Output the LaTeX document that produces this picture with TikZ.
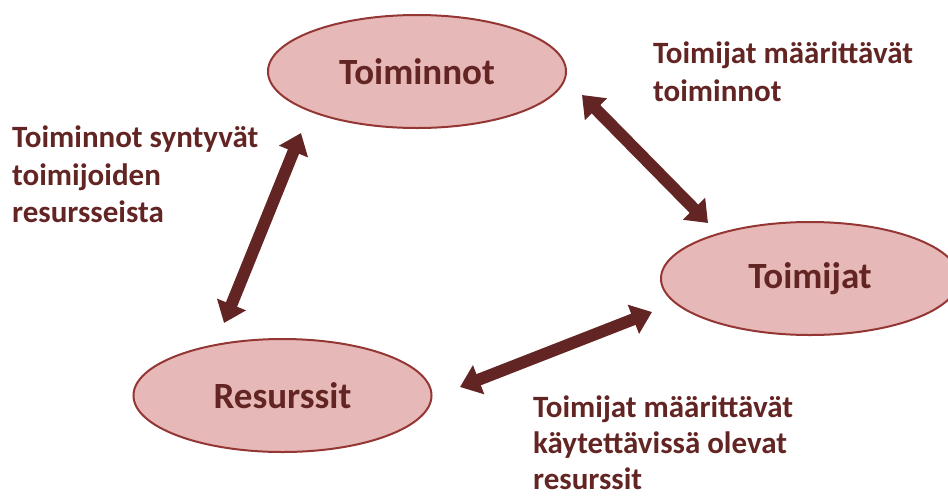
\documentclass[tikz,border=0pt]{standalone}
\usepackage{fontspec}
\setmainfont{Carlito}
\usetikzlibrary{shapes.geometric,arrows.meta}
\definecolor{efill}{HTML}{E6B9B8}
\definecolor{eborder}{HTML}{943634}
\definecolor{dred}{HTML}{632523}
\tikzset{
  ell/.style={ellipse, draw=eborder, line width=2pt, fill=efill, minimum width=298pt, minimum height=113pt, inner sep=0pt, text=dred, font=\fontsize{37}{44}\selectfont\bfseries},
  lbl/.style={anchor=north west, inner sep=0pt, align=left, text=dred, font=\fontsize{31}{37.5}\selectfont\bfseries},
  dblarrow/.style={draw=dred, line width=12pt, {Triangle[width=30pt,length=20pt]}-{Triangle[width=30pt,length=20pt]}}
}
\begin{document}
\begin{tikzpicture}[x=1pt,y=-1pt]
\useasboundingbox (0,0) rectangle (948,499);
\node[ell] (toiminnot) at (417,71.5) {Toiminnot};
\node[ell] (toimijat) at (810,278.5) {Toimijat};
\node[ell] (resurssit) at (282.5,395.5) {Resurssit};
\coordinate (a1) at (301,133);
\coordinate (a2) at (224,323);
\coordinate (b1) at (582,95);
\coordinate (b2) at (708,223);
\coordinate (c1) at (652,312);
\coordinate (c2) at (460,387);
\draw[dblarrow] (a1) -- (a2);
\draw[dblarrow] (b1) -- (b2);
\draw[dblarrow] (c1) -- (c2);
\node[lbl] (l1) at (12,126) {Toiminnot syntyvät\\toimijoiden\\resursseista};
\node[lbl] (l2) at (653,42) {Toimijat määrittävät\\toiminnot};
\node[lbl, font=\fontsize{31}{36}\selectfont\bfseries] (l3) at (533,396) {Toimijat määrittävät\\käytettävissä olevat\\resurssit};
\end{tikzpicture}
\end{document}
